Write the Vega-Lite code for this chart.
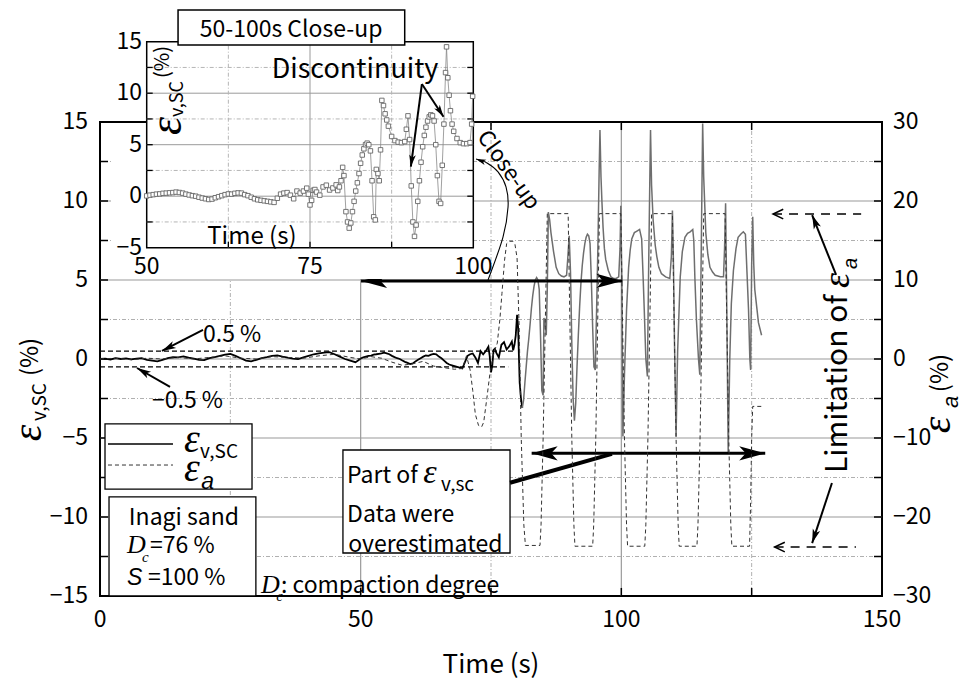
{
  "$schema": "https://vega.github.io/schema/vega-lite/v6.json",
  "width": 782,
  "height": 474,
  "autosize": "none",
  "padding": {"left": 100, "top": 122, "right": 91, "bottom": 85},
  "background": "white",
  "config": {
    "font": "Noto Sans CJK JP",
    "view": {"stroke": "black", "strokeWidth": 2},
    "axis": {"disable": true},
    "text": {"font": "Noto Sans CJK JP", "fontSize": 23, "color": "black"}
  },
  "datasets": {
    "ev": [
      {"t":0,"v":0},{"t":1,"v":0.02},{"t":2,"v":-0.03},{"t":3,"v":0.05},{"t":4,"v":0},{"t":5,"v":0.04},{"t":6,"v":-0.02},{"t":7,"v":0.03},{"t":8,"v":0.06},{"t":9,"v":-0.05},
      {"t":10,"v":-0.1},{"t":11,"v":-0.15},{"t":12,"v":-0.05},{"t":13,"v":0.05},{"t":14,"v":0.12},{"t":15,"v":0.1},{"t":16,"v":0.17},{"t":17,"v":0.08},{"t":18,"v":0.02},{"t":19,"v":-0.05},
      {"t":20,"v":-0.07},{"t":21,"v":0.05},{"t":22,"v":0.12},{"t":23,"v":0.2},{"t":24,"v":0.28},{"t":25,"v":0.32},{"t":26,"v":0.2},{"t":27,"v":0.05},{"t":28,"v":-0.1},{"t":29,"v":-0.15},
      {"t":30,"v":-0.05},{"t":31,"v":0.05},{"t":32,"v":0.12},{"t":33,"v":0.2},{"t":34,"v":0.23},{"t":35,"v":0.15},{"t":36,"v":0.08},{"t":37,"v":0.02},{"t":38,"v":0},{"t":39,"v":0.1},
      {"t":40,"v":0.2},{"t":41,"v":0.3},{"t":42,"v":0.35},{"t":43,"v":0.4},{"t":44,"v":0.44},{"t":45,"v":0.3},{"t":46,"v":0.15},{"t":47,"v":0},{"t":48,"v":-0.1},{"t":49,"v":-0.2},{"t":49.5,"v":-0.1},
      {"t":50,"v":0.03},{"t":50.5,"v":0.1},{"t":51,"v":0.15},{"t":51.5,"v":0.2},{"t":52,"v":0.22},{"t":52.5,"v":0.28},{"t":53,"v":0.3},{"t":53.5,"v":0.33},{"t":54,"v":0.35},{"t":54.5,"v":0.4},
      {"t":55,"v":0.36},{"t":55.5,"v":0.3},{"t":56,"v":0.2},{"t":56.5,"v":0.12},{"t":57,"v":0.05},{"t":57.5,"v":0},{"t":58,"v":-0.1},{"t":58.5,"v":-0.18},{"t":59,"v":-0.25},{"t":59.5,"v":-0.32},
      {"t":60,"v":-0.28},{"t":60.5,"v":-0.15},{"t":61,"v":-0.05},{"t":61.5,"v":0.05},{"t":62,"v":0.15},{"t":62.5,"v":0.22},{"t":63,"v":0.2},{"t":63.5,"v":0.28},{"t":64,"v":0.32},{"t":64.5,"v":0.3},
      {"t":65,"v":0.15},{"t":65.5,"v":0.05},{"t":66,"v":-0.1},{"t":66.5,"v":-0.25},{"t":67,"v":-0.35},{"t":67.5,"v":-0.4},{"t":68,"v":-0.45},{"t":68.5,"v":-0.5},{"t":69,"v":-0.55},{"t":69.5,"v":-0.6},
      {"t":70,"v":-0.2},{"t":70.5,"v":0.2},{"t":71,"v":0.3},{"t":71.5,"v":0.35},{"t":72,"v":0.1},{"t":72.5,"v":-0.25},{"t":73,"v":0.5},{"t":73.5,"v":0.3},{"t":74,"v":0.5},{"t":74.5,"v":0.78},
      {"t":74.75,"v":0.2},{"t":75,"v":-0.85},{"t":75.25,"v":-0.4},{"t":75.5,"v":0.57},{"t":75.75,"v":0.65},{"t":76,"v":0.4},{"t":76.5,"v":0.1},{"t":77,"v":0.9},{"t":77.5,"v":1.07},{"t":78,"v":0.6},
      {"t":78.5,"v":0.8},{"t":79,"v":1.1},{"t":79.25,"v":0.55},{"t":79.5,"v":0.9},{"t":79.75,"v":1.5},{"t":80,"v":2.8},{"t":80.2,"v":2.0},{"t":80.5,"v":-1.5},{"t":80.75,"v":-2.5},{"t":81,"v":-3.1},
      {"t":81.25,"v":-2.6},{"t":81.5,"v":-1.5},{"t":81.75,"v":-0.5},{"t":82,"v":0.5},{"t":82.25,"v":1.3},{"t":82.5,"v":2.2},{"t":82.75,"v":3.2},{"t":83,"v":4.0},{"t":83.25,"v":4.6},{"t":83.5,"v":5.0},
      {"t":83.75,"v":5.15},{"t":84,"v":5.0},{"t":84.25,"v":4.4},{"t":84.5,"v":1.5},{"t":84.75,"v":-2.0},{"t":85,"v":-2.3},{"t":85.15,"v":2.6},{"t":85.4,"v":2.2},{"t":85.6,"v":1.5},{"t":85.8,"v":4.5},
      {"t":86,"v":9.3},{"t":86.25,"v":8.8},{"t":86.5,"v":8.0},{"t":86.75,"v":7.4},{"t":87,"v":6.8},{"t":87.5,"v":5.8},{"t":88,"v":5.4},{"t":88.5,"v":5.25},{"t":89,"v":5.2},{"t":89.5,"v":5.3},
      {"t":89.75,"v":6.5},{"t":90,"v":7.8},{"t":90.25,"v":5.5},{"t":90.5,"v":1.0},{"t":90.75,"v":-2.5},{"t":91,"v":-3.9},{"t":91.25,"v":-2.8},{"t":91.5,"v":-0.5},{"t":91.75,"v":1.5},{"t":92,"v":3.3},
      {"t":92.25,"v":4.8},{"t":92.5,"v":5.9},{"t":92.75,"v":6.7},{"t":93,"v":7.3},{"t":93.25,"v":7.7},{"t":93.5,"v":7.9},{"t":93.75,"v":7.8},{"t":94,"v":7.3},{"t":94.25,"v":5.0},{"t":94.5,"v":2.0},
      {"t":94.75,"v":-0.5},{"t":95,"v":-0.7},{"t":95.25,"v":3.0},{"t":95.5,"v":7.0},{"t":95.75,"v":12.0},{"t":95.9,"v":14.5},{"t":96.1,"v":11.5},{"t":96.3,"v":9.8},{"t":96.5,"v":8.3},{"t":96.75,"v":7.0},
      {"t":97,"v":6.3},{"t":97.5,"v":5.6},{"t":98,"v":5.2},{"t":98.5,"v":5.1},{"t":99,"v":5.1},{"t":99.5,"v":5.2},{"t":99.75,"v":7.0},{"t":99.9,"v":9.7},{"t":100.1,"v":5.0},{"t":100.3,"v":-4.9},
      {"t":100.6,"v":-1.0},{"t":101,"v":3.1},{"t":101.4,"v":5.8},{"t":101.7,"v":6.9},{"t":102,"v":7.6},{"t":102.5,"v":8.0},{"t":103,"v":8.1},{"t":103.5,"v":8.2},{"t":103.9,"v":7.6},{"t":104.2,"v":5.0},
      {"t":104.4,"v":3.1},{"t":104.7,"v":0},{"t":105,"v":-1.1},{"t":105.2,"v":4.8},{"t":105.45,"v":11.0},{"t":105.6,"v":14.5},{"t":105.8,"v":11.0},{"t":106.1,"v":8.8},{"t":106.5,"v":7.2},{"t":106.8,"v":6.5},
      {"t":107.2,"v":5.8},{"t":107.7,"v":5.4},{"t":108.5,"v":5.2},{"t":109.3,"v":5.1},{"t":109.6,"v":6.5},{"t":109.8,"v":9.4},{"t":110,"v":6.0},{"t":110.2,"v":1.0},{"t":110.5,"v":-4.9},{"t":110.8,"v":0.5},
      {"t":111.3,"v":5.2},{"t":111.7,"v":6.8},{"t":112.2,"v":7.7},{"t":112.7,"v":7.95},{"t":113.2,"v":8.05},{"t":113.7,"v":8.2},{"t":113.9,"v":7.5},{"t":114.1,"v":5.2},{"t":114.4,"v":2.5},{"t":114.8,"v":0},
      {"t":115.05,"v":-1.0},{"t":115.3,"v":6.0},{"t":115.6,"v":14.9},{"t":115.8,"v":11.5},{"t":116.2,"v":8.0},{"t":116.6,"v":6.6},{"t":117,"v":5.8},{"t":117.5,"v":5.5},{"t":118,"v":5.3},{"t":119,"v":5.2},
      {"t":119.6,"v":5.2},{"t":119.8,"v":7.0},{"t":120,"v":9.85},{"t":120.2,"v":4.0},{"t":120.5,"v":-6.0},{"t":120.8,"v":0},{"t":121.1,"v":3.5},{"t":121.5,"v":5.6},{"t":122,"v":7.0},{"t":122.4,"v":7.7},
      {"t":122.9,"v":7.9},{"t":123.4,"v":8.05},{"t":123.8,"v":7.9},{"t":124.1,"v":5.5},{"t":124.4,"v":3.1},{"t":124.65,"v":0},{"t":124.8,"v":-0.7},{"t":125,"v":6.0},{"t":125.2,"v":9.0},{"t":125.4,"v":6.0},
      {"t":125.6,"v":4.4},{"t":126,"v":3.2},{"t":126.3,"v":2.3},{"t":126.9,"v":1.5}
    ],
    "ea": [
      {"t":0,"e":0},{"t":3,"e":0.1},{"t":6,"e":-0.1},{"t":9,"e":0.1},{"t":12,"e":0},{"t":15,"e":0.2},{"t":18,"e":0},{"t":21,"e":0.2},{"t":24,"e":0.4},{"t":27,"e":0.1},
      {"t":30,"e":0},{"t":33,"e":0.3},{"t":36,"e":0.2},{"t":39,"e":0.1},{"t":42,"e":0.4},{"t":45,"e":0.6},{"t":48,"e":0.2},{"t":50,"e":0},{"t":52,"e":0.3},{"t":54,"e":0.1},
      {"t":56,"e":-0.4},{"t":58,"e":-0.8},{"t":60,"e":-0.6},{"t":62,"e":-0.3},{"t":64,"e":-0.9},{"t":66,"e":-1.1},{"t":68,"e":-1.3},{"t":69.5,"e":-1.2},{"t":70.3,"e":0.4},{"t":71,"e":-1.4},
      {"t":71.5,"e":-4.0},{"t":72,"e":-7.0},{"t":72.6,"e":-8.4},{"t":73.2,"e":-8.6},{"t":73.6,"e":-8.0},{"t":74.2,"e":-5.0},{"t":74.8,"e":-1.8},{"t":75.5,"e":0.7},{"t":76.2,"e":2.0},{"t":76.7,"e":5.0},
      {"t":77.1,"e":8.3},{"t":77.6,"e":12.5},{"t":78,"e":14.6},{"t":78.5,"e":14.9},{"t":79.2,"e":14.9},{"t":79.6,"e":14.5},{"t":80,"e":12.8},{"t":80.4,"e":4.0},{"t":80.8,"e":-10.0},{"t":81.3,"e":-21.0},
      {"t":81.6,"e":-23.6},{"t":84.4,"e":-23.6},{"t":84.6,"e":-21.0},{"t":85,"e":-10.0},{"t":85.4,"e":4.0},{"t":85.8,"e":18.4},
      {"t":89.8,"e":18.4},{"t":90.1,"e":6},{"t":90.5,"e":-10},{"t":90.9,"e":-21},{"t":91.1,"e":-23.7},{"t":94.5,"e":-23.7},{"t":94.7,"e":-21},{"t":95.1,"e":-10},{"t":95.5,"e":6},{"t":95.8,"e":18.4},
      {"t":99.9,"e":18.4},{"t":100.2,"e":6},{"t":100.6,"e":-10},{"t":101,"e":-21},{"t":101.2,"e":-23.7},{"t":104.5,"e":-23.7},{"t":104.7,"e":-21},{"t":105.1,"e":-10},{"t":105.5,"e":6},{"t":105.8,"e":18.4},
      {"t":109.8,"e":18.4},{"t":110.1,"e":6},{"t":110.5,"e":-10},{"t":110.9,"e":-21},{"t":111.1,"e":-23.7},{"t":114.5,"e":-23.7},{"t":114.7,"e":-21},{"t":115.1,"e":-10},{"t":115.5,"e":6},{"t":115.8,"e":18.4},
      {"t":119.9,"e":18.4},{"t":120.2,"e":6},{"t":120.6,"e":-10},{"t":121,"e":-21},{"t":121.2,"e":-23.7},{"t":124.6,"e":-23.7},{"t":124.8,"e":-18},{"t":125,"e":-10},{"t":125.2,"e":-6.0},{"t":126.9,"e":-6.0}
    ]
  },
  "layer": [
    {
      "layer": [
        {"data": {"values": [{"g":50},{"g":100}]},
         "mark": {"type": "rule", "color": "#9a9a9a", "strokeWidth": 1.2},
         "encoding": {"x": {"field": "g", "type": "quantitative", "scale": {"domain": [0,150], "nice": false}, "axis": null}}},
        {"data": {"values": [{"g":-10},{"g":-5},{"g":0},{"g":5},{"g":10}]},
         "mark": {"type": "rule", "color": "#9a9a9a", "strokeWidth": 1.2},
         "encoding": {"y": {"field": "g", "type": "quantitative", "scale": {"domain": [-15,15], "nice": false}, "axis": null}}},
        {"data": {"values": [{"g":25},{"g":75},{"g":125}]},
         "mark": {"type": "rule", "color": "#b0b0b0", "strokeWidth": 1, "strokeDash": [4,2,1,2]},
         "encoding": {"x": {"field": "g", "type": "quantitative", "axis": null}}},
        {"data": {"values": [{"g":-12.5},{"g":-7.5},{"g":-2.5},{"g":2.5},{"g":7.5},{"g":12.5}]},
         "mark": {"type": "rule", "color": "#b0b0b0", "strokeWidth": 1, "strokeDash": [4,2,1,2]},
         "encoding": {"y": {"field": "g", "type": "quantitative", "axis": null}}},
        {"data": {"values": [{"g":-12.5},{"g":-10},{"g":-7.5},{"g":-5},{"g":-2.5},{"g":0},{"g":2.5},{"g":5},{"g":7.5},{"g":10},{"g":12.5}]},
         "mark": {"type": "rule", "color": "black", "strokeWidth": 1.5},
         "encoding": {"y": {"field": "g", "type": "quantitative", "axis": null}, "x": {"datum": 0}, "x2": {"datum": 1.535}}},
        {"data": {"values": [{"g":25},{"g":50},{"g":75},{"g":100},{"g":125}]},
         "mark": {"type": "rule", "color": "black", "strokeWidth": 1.5},
         "encoding": {"x": {"field": "g", "type": "quantitative", "axis": null}, "y": {"datum": -15}, "y2": {"datum": -14.49}}},
        {"data": {"values": [{"g":25},{"g":50},{"g":75},{"g":100},{"g":125}]},
         "mark": {"type": "rule", "color": "black", "strokeWidth": 1.5},
         "encoding": {"x": {"field": "g", "type": "quantitative", "axis": null}, "y": {"datum": 15}, "y2": {"datum": 14.49}}},
        {"data": {"values": [{"g":-15},{"g":-10},{"g":-5},{"g":0},{"g":5},{"g":10},{"g":15}]},
         "mark": {"type": "text", "align": "right", "baseline": "middle", "fontSize": 23},
         "encoding": {"y": {"field": "g", "type": "quantitative", "axis": null}, "x": {"datum": -2.3}, "text": {"field": "g", "type": "quantitative"}}},
        {"data": {"values": [{"g":0},{"g":50},{"g":100},{"g":150}]},
         "mark": {"type": "text", "align": "center", "baseline": "top", "fontSize": 23},
         "encoding": {"x": {"field": "g", "type": "quantitative", "axis": null}, "y": {"datum": -15.85}, "text": {"field": "g", "type": "quantitative"}}},
        {"data": {"values": [{"x":75,"y":-19.9,"label":"Time (s)"}]},
         "mark": {"type": "text", "align": "center", "baseline": "alphabetic", "fontSize": 26},
         "encoding": {"x": {"field": "x", "type": "quantitative", "axis": null}, "y": {"field": "y", "type": "quantitative", "axis": null}, "text": {"field": "label"}}},
        {"data": {"values": [{"a":0,"b":79.2,"y":0.5},{"a":0,"b":78.3,"y":-0.5}]},
         "mark": {"type": "rule", "color": "black", "strokeWidth": 1.2, "strokeDash": [5,3]},
         "encoding": {"x": {"field": "a", "type": "quantitative", "axis": null}, "x2": {"field": "b"}, "y": {"field": "y", "type": "quantitative", "axis": null}}},
        {"data": {"name": "ev"}, "transform": [{"filter": "datum.t <= 81"}],
         "mark": {"type": "line", "color": "black", "strokeWidth": 1.8},
         "encoding": {"x": {"field": "t", "type": "quantitative", "axis": null}, "y": {"field": "v", "type": "quantitative", "axis": null}}},
        {"data": {"name": "ev"}, "transform": [{"filter": "datum.t >= 81"}],
         "mark": {"type": "line", "color": "#6e6e6e", "strokeWidth": 1.5},
         "encoding": {"x": {"field": "t", "type": "quantitative", "axis": null}, "y": {"field": "v", "type": "quantitative", "axis": null}}},
        {"data": {"values": [{"x":0.96,"x2":29.16,"y":-4.11,"y2":-8.23},{"x":1.73,"x2":29.9,"y":-8.73,"y2":-15},{"x":46.6,"x2":78.65,"y":-5.76,"y2":-12.28}]},
         "mark": {"type": "rect", "fill": "white", "stroke": "black", "strokeWidth": 1.3},
         "encoding": {"x": {"field": "x", "type": "quantitative", "axis": null}, "x2": {"field": "x2"}, "y": {"field": "y", "type": "quantitative", "axis": null}, "y2": {"field": "y2"}}},
        {"data": {"values": [{"x":1.53,"x2":14.0,"y":-5.38}]},
         "mark": {"type": "rule", "color": "black", "strokeWidth": 1.6},
         "encoding": {"x": {"field": "x", "type": "quantitative", "axis": null}, "x2": {"field": "x2"}, "y": {"field": "y", "type": "quantitative", "axis": null}}},
        {"data": {"values": [{"x":1.53,"x2":14.0,"y":-6.71}]},
         "mark": {"type": "rule", "color": "#333", "strokeWidth": 1, "strokeDash": [4,3]},
         "encoding": {"x": {"field": "x", "type": "quantitative", "axis": null}, "x2": {"field": "x2"}, "y": {"field": "y", "type": "quantitative", "axis": null}}},
        {"data": {"values": [{"x":50.07,"x2":100.2,"y":4.94},{"x":82.8,"x2":127.6,"y":-5.97}]},
         "mark": {"type": "rule", "color": "black", "strokeWidth": 3},
         "encoding": {"x": {"field": "x", "type": "quantitative", "axis": null}, "x2": {"field": "x2"}, "y": {"field": "y", "type": "quantitative", "axis": null}}},
        {"data": {"values": [{"x":78.65,"y":-7.83,"x2":98.2,"y2":-6.0}]},
         "mark": {"type": "rule", "color": "black", "strokeWidth": 4},
         "encoding": {"x": {"field": "x", "type": "quantitative", "axis": null}, "x2": {"field": "x2"}, "y": {"field": "y", "type": "quantitative", "axis": null}, "y2": {"field": "y2"}}},
        {"data": {"values": [{"x":19.76,"y":1.84,"x2":11.89,"y2":0.51},{"x":13.43,"y":-1.77,"x2":7.1,"y2":-0.57},{"x":141.2,"y":5.32,"x2":136.6,"y2":9.11},{"x":140.4,"y":-7.85,"x2":136.6,"y2":-11.65}]},
         "mark": {"type": "rule", "color": "black", "strokeWidth": 2},
         "encoding": {"x": {"field": "x", "type": "quantitative", "axis": null}, "x2": {"field": "x2"}, "y": {"field": "y", "type": "quantitative", "axis": null}, "y2": {"field": "y2"}}},
        {"data": {"values": [{"x":50.07,"y":4.94,"ang":180},{"x":100.2,"y":4.94,"ang":0},{"x":82.8,"y":-5.97,"ang":180},{"x":127.6,"y":-5.97,"ang":0}]},
         "mark": {"type": "point", "shape": "M0,0L-2,-0.55L-1.5,0L-2,0.55Z", "filled": true, "color": "black", "opacity": 1, "size": 676},
         "encoding": {"x": {"field": "x", "type": "quantitative", "axis": null}, "y": {"field": "y", "type": "quantitative", "axis": null}, "angle": {"field": "ang", "type": "quantitative", "scale": null}}},
        {"data": {"values": [{"x":11.89,"y":0.51,"ang":153},{"x":7.1,"y":-0.57,"ang":-150},{"x":136.6,"y":9.11,"ang":-112},{"x":136.6,"y":-11.65,"ang":108}]},
         "mark": {"type": "point", "shape": "M0,0L-2,-0.55L-1.5,0L-2,0.55Z", "filled": true, "color": "black", "opacity": 1, "size": 196},
         "encoding": {"x": {"field": "x", "type": "quantitative", "axis": null}, "y": {"field": "y", "type": "quantitative", "axis": null}, "angle": {"field": "ang", "type": "quantitative", "scale": null}}},
        {"data": {"values": [{"i":0,"x":74.43,"y":5.0},{"i":1,"x":77.3,"y":7.72},{"i":2,"x":78.27,"y":9.62},{"i":3,"x":77.88,"y":10.89},{"i":4,"x":76.35,"y":11.84},{"i":5,"x":74.24,"y":12.41},{"i":6,"x":72.13,"y":12.66}]},
         "mark": {"type": "line", "color": "black", "strokeWidth": 1.1, "interpolate": "cardinal"},
         "encoding": {"x": {"field": "x", "type": "quantitative", "axis": null}, "y": {"field": "y", "type": "quantitative", "axis": null}, "order": {"field": "i"}}},
        {"data": {"values": [{"x":72.13,"y":12.66,"ang":-160}]},
         "mark": {"type": "point", "shape": "M0,0L-2,-0.55L-1.5,0L-2,0.55Z", "filled": true, "color": "black", "opacity": 1, "size": 100},
         "encoding": {"x": {"field": "x", "type": "quantitative", "axis": null}, "y": {"field": "y", "type": "quantitative", "axis": null}, "angle": {"field": "ang", "type": "quantitative", "scale": null}}},
        {"data": {"values": [{"x":19.76,"y":1.08,"label":"0.5 %"},{"x":9.97,"y":-3.1,"label":"−0.5 %"},{"x":9.6,"y":-12.28,"label":"=76 %"},{"x":9.2,"y":-14.3,"label":"=100 %"},{"x":34.7,"y":-14.8,"label":": compaction degree"},{"x":47.4,"y":-7.85,"label":"Part of"},{"x":47.4,"y":-10.3,"label":"Data were"},{"x":47.6,"y":-12.2,"label":"overestimated"}]},
         "mark": {"type": "text", "align": "left", "baseline": "alphabetic", "fontSize": 23},
         "encoding": {"x": {"field": "x", "type": "quantitative", "axis": null}, "y": {"field": "y", "type": "quantitative", "axis": null}, "text": {"field": "label"}}},
        {"data": {"values": [{"x":16.1,"y":-10.5,"label":"Inagi sand"}]},
         "mark": {"type": "text", "align": "center", "baseline": "alphabetic", "fontSize": 23},
         "encoding": {"x": {"field": "x", "type": "quantitative", "axis": null}, "y": {"field": "y", "type": "quantitative", "axis": null}, "text": {"field": "label"}}},
        {"data": {"values": [{"x":16.1,"y":-5.89,"label":"ε"},{"x":16.1,"y":-7.72,"label":"ε"}]},
         "mark": {"type": "text", "align": "left", "baseline": "alphabetic", "font": "Liberation Serif", "fontStyle": "italic", "fontSize": 40},
         "encoding": {"x": {"field": "x", "type": "quantitative", "axis": null}, "y": {"field": "y", "type": "quantitative", "axis": null}, "text": {"field": "label"}}},
        {"data": {"values": [{"x":62.0,"y":-7.85,"label":"ε"}]},
         "mark": {"type": "text", "align": "left", "baseline": "alphabetic", "font": "Liberation Serif", "fontStyle": "italic", "fontSize": 34},
         "encoding": {"x": {"field": "x", "type": "quantitative", "axis": null}, "y": {"field": "y", "type": "quantitative", "axis": null}, "text": {"field": "label"}}},
        {"data": {"values": [{"x":19.2,"y":-6.27,"label":"v,SC"},{"x":65.4,"y":-8.35,"label":"v,sc"}]},
         "mark": {"type": "text", "align": "left", "baseline": "alphabetic", "fontSize": 19},
         "encoding": {"x": {"field": "x", "type": "quantitative", "axis": null}, "y": {"field": "y", "type": "quantitative", "axis": null}, "text": {"field": "label"}}},
        {"data": {"values": [{"x":19.4,"y":-8.23,"label":"a"},{"x":5.18,"y":-14.3,"label":"S"}]},
         "mark": {"type": "text", "align": "left", "baseline": "alphabetic", "font": "Liberation Sans", "fontStyle": "italic", "fontSize": 23},
         "encoding": {"x": {"field": "x", "type": "quantitative", "axis": null}, "y": {"field": "y", "type": "quantitative", "axis": null}, "text": {"field": "label"}}},
        {"data": {"values": [{"x":5.18,"y":-12.28,"label":"D"},{"x":30.9,"y":-14.8,"label":"D"}]},
         "mark": {"type": "text", "align": "left", "baseline": "alphabetic", "font": "Liberation Serif", "fontStyle": "italic", "fontSize": 26},
         "encoding": {"x": {"field": "x", "type": "quantitative", "axis": null}, "y": {"field": "y", "type": "quantitative", "axis": null}, "text": {"field": "label"}}},
        {"data": {"values": [{"x":8.06,"y":-12.85,"label":"c"},{"x":33.8,"y":-15.3,"label":"c"}]},
         "mark": {"type": "text", "align": "left", "baseline": "alphabetic", "font": "Liberation Serif", "fontStyle": "italic", "fontSize": 15},
         "encoding": {"x": {"field": "x", "type": "quantitative", "axis": null}, "y": {"field": "y", "type": "quantitative", "axis": null}, "text": {"field": "label"}}},
        {"data": {"values": [{"x":-11.3,"y":-4.68,"label":"ε"},{"x":163.05,"y":-4.18,"label":"ε"}]},
         "mark": {"type": "text", "align": "center", "baseline": "alphabetic", "angle": 270, "font": "Liberation Serif", "fontStyle": "italic", "fontSize": 42},
         "encoding": {"x": {"field": "x", "type": "quantitative", "axis": null}, "y": {"field": "y", "type": "quantitative", "axis": null}, "text": {"field": "label"}}},
        {"data": {"values": [{"x":-10.36,"y":-2.72,"label":"v,SC"}]},
         "mark": {"type": "text", "align": "center", "baseline": "alphabetic", "angle": 270, "fontSize": 19},
         "encoding": {"x": {"field": "x", "type": "quantitative", "axis": null}, "y": {"field": "y", "type": "quantitative", "axis": null}, "text": {"field": "label"}}},
        {"data": {"values": [{"x":-11.9,"y":0.13,"label":"(%)"},{"x":162.7,"y":-0.89,"label":"(%)"}]},
         "mark": {"type": "text", "align": "center", "baseline": "alphabetic", "angle": 270, "fontSize": 24},
         "encoding": {"x": {"field": "x", "type": "quantitative", "axis": null}, "y": {"field": "y", "type": "quantitative", "axis": null}, "text": {"field": "label"}}},
        {"data": {"values": [{"x":164.6,"y":-2.72,"label":"a"}]},
         "mark": {"type": "text", "align": "center", "baseline": "alphabetic", "angle": 270, "font": "Liberation Sans", "fontStyle": "italic", "fontSize": 22},
         "encoding": {"x": {"field": "x", "type": "quantitative", "axis": null}, "y": {"field": "y", "type": "quantitative", "axis": null}, "text": {"field": "label"}}},
        {"data": {"values": [{"x":143.3,"y":-7.22,"label":"Limitation of"}]},
         "mark": {"type": "text", "align": "left", "baseline": "alphabetic", "angle": 270, "fontSize": 30},
         "encoding": {"x": {"field": "x", "type": "quantitative", "axis": null}, "y": {"field": "y", "type": "quantitative", "axis": null}, "text": {"field": "label"}}},
        {"data": {"values": [{"x":143.7,"y":4.5,"label":"ε"}]},
         "mark": {"type": "text", "align": "left", "baseline": "alphabetic", "angle": 270, "font": "Liberation Serif", "fontStyle": "italic", "fontSize": 38},
         "encoding": {"x": {"field": "x", "type": "quantitative", "axis": null}, "y": {"field": "y", "type": "quantitative", "axis": null}, "text": {"field": "label"}}},
        {"data": {"values": [{"x":145.2,"y":5.7,"label":"a"}]},
         "mark": {"type": "text", "align": "left", "baseline": "alphabetic", "angle": 270, "font": "Liberation Sans", "fontStyle": "italic", "fontSize": 20},
         "encoding": {"x": {"field": "x", "type": "quantitative", "axis": null}, "y": {"field": "y", "type": "quantitative", "axis": null}, "text": {"field": "label"}}},
        {"data": {"values": [{"x":78.36,"y":11.96,"label":"Close-up"}]},
         "mark": {"type": "text", "align": "center", "baseline": "middle", "angle": 54.5, "fontSize": 22},
         "encoding": {"x": {"field": "x", "type": "quantitative", "axis": null}, "y": {"field": "y", "type": "quantitative", "axis": null}, "text": {"field": "label"}}}
      ]
    },
    {
      "layer": [
        {"data": {"name": "ea"},
         "mark": {"type": "line", "color": "#333", "strokeWidth": 1, "strokeDash": [4,3]},
         "encoding": {
           "x": {"field": "t", "type": "quantitative", "scale": {"domain": [0,150], "nice": false}, "axis": null},
           "y": {"field": "e", "type": "quantitative", "scale": {"domain": [-30,30], "nice": false}, "axis": null}}},
        {"data": {"values": [{"g":-25},{"g":-20},{"g":-15},{"g":-10},{"g":-5},{"g":0},{"g":5},{"g":10},{"g":15},{"g":20},{"g":25}]},
         "mark": {"type": "rule", "color": "black", "strokeWidth": 1.5},
         "encoding": {"y": {"field": "g", "type": "quantitative", "axis": null}, "x": {"datum": 148.465}, "x2": {"datum": 150}}},
        {"data": {"values": [{"g":-30},{"g":-20},{"g":-10},{"g":0},{"g":10},{"g":20},{"g":30}]},
         "mark": {"type": "text", "align": "left", "baseline": "middle", "fontSize": 23},
         "encoding": {"y": {"field": "g", "type": "quantitative", "axis": null}, "x": {"datum": 152.1}, "text": {"field": "g", "type": "quantitative"}}},
        {"data": {"values": [{"a":129.1,"b":146,"e":18.35},{"a":129.4,"b":145,"e":-23.8}]},
         "mark": {"type": "rule", "color": "black", "strokeWidth": 1.5, "strokeDash": [9,7]},
         "encoding": {"x": {"field": "a", "type": "quantitative", "axis": null}, "x2": {"field": "b"}, "y": {"field": "e", "type": "quantitative", "axis": null}}},
        {"data": {"values": [{"a":129.1,"e":18.35},{"a":129.4,"e":-23.8}]},
         "mark": {"type": "point", "shape": "M1.7,-0.8L0,0L1.7,0.8", "filled": false, "color": "black", "strokeWidth": 1.5, "opacity": 1, "size": 144},
         "encoding": {"x": {"field": "a", "type": "quantitative", "axis": null}, "y": {"field": "e", "type": "quantitative", "axis": null}}}
      ]
    },
    {
      "layer": [
        {"data": {"values": [{"x":44.53,"x2":100,"y":7.01,"y2":-8.04}]},
         "mark": {"type": "rect", "fill": "white", "stroke": null},
         "encoding": {
           "x": {"field": "x", "type": "quantitative", "scale": {"domain": [50,100], "range": [46.7,373.3], "nice": false}, "axis": null},
           "x2": {"field": "x2"},
           "y": {"field": "y", "type": "quantitative", "scale": {"domain": [-5,15], "range": [125.7,-80.3], "nice": false}, "axis": null},
           "y2": {"field": "y2"}}},
        {"data": {"values": [{"x":50,"x2":100,"y":-5,"y2":15}]},
         "mark": {"type": "rect", "fill": "white", "stroke": "black", "strokeWidth": 1.5},
         "encoding": {"x": {"field": "x", "type": "quantitative", "axis": null}, "x2": {"field": "x2"}, "y": {"field": "y", "type": "quantitative", "axis": null}, "y2": {"field": "y2"}}},
        {"data": {"values": [{"g":75}]},
         "mark": {"type": "rule", "color": "#9a9a9a", "strokeWidth": 1},
         "encoding": {"x": {"field": "g", "type": "quantitative", "axis": null}, "y": {"datum": -5}, "y2": {"datum": 15}}},
        {"data": {"values": [{"g":0},{"g":5},{"g":10}]},
         "mark": {"type": "rule", "color": "#9a9a9a", "strokeWidth": 1},
         "encoding": {"y": {"field": "g", "type": "quantitative", "axis": null}, "x": {"datum": 50}, "x2": {"datum": 100}}},
        {"data": {"values": [{"g":62.5},{"g":87.5}]},
         "mark": {"type": "rule", "color": "#b5b5b5", "strokeWidth": 1, "strokeDash": [4,2,1,2]},
         "encoding": {"x": {"field": "g", "type": "quantitative", "axis": null}, "y": {"datum": -5}, "y2": {"datum": 15}}},
        {"data": {"values": [{"g":-2.5},{"g":2.5},{"g":7.5},{"g":12.5}]},
         "mark": {"type": "rule", "color": "#b5b5b5", "strokeWidth": 1, "strokeDash": [4,2,1,2]},
         "encoding": {"y": {"field": "g", "type": "quantitative", "axis": null}, "x": {"datum": 50}, "x2": {"datum": 100}}},
        {"data": {"values": [{"g":-2.5},{"g":0},{"g":2.5},{"g":5},{"g":7.5},{"g":10},{"g":12.5}]},
         "mark": {"type": "rule", "color": "black", "strokeWidth": 1.3},
         "encoding": {"y": {"field": "g", "type": "quantitative", "axis": null}, "x": {"datum": 50}, "x2": {"datum": 50.92}}},
        {"data": {"values": [{"g":-2.5},{"g":0},{"g":2.5},{"g":5},{"g":7.5},{"g":10},{"g":12.5}]},
         "mark": {"type": "rule", "color": "black", "strokeWidth": 1.3},
         "encoding": {"y": {"field": "g", "type": "quantitative", "axis": null}, "x": {"datum": 99.08}, "x2": {"datum": 100}}},
        {"data": {"values": [{"g":62.5},{"g":75},{"g":87.5}]},
         "mark": {"type": "rule", "color": "black", "strokeWidth": 1.3},
         "encoding": {"x": {"field": "g", "type": "quantitative", "axis": null}, "y": {"datum": -5}, "y2": {"datum": -4.42}}},
        {"data": {"values": [{"g":-5},{"g":0},{"g":5},{"g":10},{"g":15}]},
         "mark": {"type": "text", "align": "right", "baseline": "middle", "fontSize": 23},
         "encoding": {"y": {"field": "g", "type": "quantitative", "axis": null}, "x": {"datum": 49.28}, "text": {"field": "g", "type": "quantitative"}}},
        {"data": {"values": [{"g":50},{"g":75},{"g":100}]},
         "mark": {"type": "text", "align": "center", "baseline": "top", "fontSize": 23},
         "encoding": {"x": {"field": "g", "type": "quantitative", "axis": null}, "y": {"datum": -5.8}, "text": {"field": "g", "type": "quantitative"}}},
        {"data": {"name": "ev"}, "transform": [{"filter": "datum.t >= 50 && datum.t <= 100"}],
         "mark": {"type": "line", "color": "#888", "strokeWidth": 0.8},
         "encoding": {"x": {"field": "t", "type": "quantitative", "axis": null}, "y": {"field": "v", "type": "quantitative", "axis": null}}},
        {"data": {"name": "ev"}, "transform": [{"filter": "datum.t >= 50 && datum.t <= 100"}],
         "mark": {"type": "point", "shape": "square", "filled": false, "color": "#666", "fill": "white", "fillOpacity": 1, "strokeWidth": 0.9, "opacity": 1, "size": 20},
         "encoding": {"x": {"field": "t", "type": "quantitative", "axis": null}, "y": {"field": "v", "type": "quantitative", "axis": null}}},
        {"data": {"values": [{"x":92.13,"y":10.89,"x2":90.44,"y2":2.86},{"x":92.13,"y":10.89,"x2":95.44,"y2":7.72}]},
         "mark": {"type": "rule", "color": "black", "strokeWidth": 2},
         "encoding": {"x": {"field": "x", "type": "quantitative", "axis": null}, "x2": {"field": "x2"}, "y": {"field": "y", "type": "quantitative", "axis": null}, "y2": {"field": "y2"}}},
        {"data": {"values": [{"x":90.44,"y":2.86,"ang":98},{"x":95.44,"y":7.72,"ang":57}]},
         "mark": {"type": "point", "shape": "M0,0L-2,-0.55L-1.5,0L-2,0.55Z", "filled": true, "color": "black", "opacity": 1, "size": 144},
         "encoding": {"x": {"field": "x", "type": "quantitative", "axis": null}, "y": {"field": "y", "type": "quantitative", "axis": null}, "angle": {"field": "ang", "type": "quantitative", "scale": null}}},
        {"data": {"values": [{"x":81.9,"y":11.48,"label":"Discontinuity"}]},
         "mark": {"type": "text", "align": "center", "baseline": "alphabetic", "fontSize": 27},
         "encoding": {"x": {"field": "x", "type": "quantitative", "axis": null}, "y": {"field": "y", "type": "quantitative", "axis": null}, "text": {"field": "label"}}},
        {"data": {"values": [{"x":66.1,"y":-4.64,"label":"Time (s)"}]},
         "mark": {"type": "text", "align": "center", "baseline": "alphabetic", "fontSize": 24},
         "encoding": {"x": {"field": "x", "type": "quantitative", "axis": null}, "y": {"field": "y", "type": "quantitative", "axis": null}, "text": {"field": "label"}}},
        {"data": {"values": [{"x":55.25,"y":6.81,"label":"ε"}]},
         "mark": {"type": "text", "align": "center", "baseline": "alphabetic", "angle": 270, "font": "Liberation Serif", "fontStyle": "italic", "fontSize": 46},
         "encoding": {"x": {"field": "x", "type": "quantitative", "axis": null}, "y": {"field": "y", "type": "quantitative", "axis": null}, "text": {"field": "label"}}},
        {"data": {"values": [{"x":55.56,"y":9.44,"label":"v,SC"}]},
         "mark": {"type": "text", "align": "center", "baseline": "alphabetic", "angle": 270, "fontSize": 18},
         "encoding": {"x": {"field": "x", "type": "quantitative", "axis": null}, "y": {"field": "y", "type": "quantitative", "axis": null}, "text": {"field": "label"}}},
        {"data": {"values": [{"x":53.41,"y":13.03,"label":"(%)"}]},
         "mark": {"type": "text", "align": "center", "baseline": "alphabetic", "angle": 270, "fontSize": 20},
         "encoding": {"x": {"field": "x", "type": "quantitative", "axis": null}, "y": {"field": "y", "type": "quantitative", "axis": null}, "text": {"field": "label"}}},
        {"data": {"values": [{"x":54.8,"x2":89.5,"y":14.68,"y2":18.08}]},
         "mark": {"type": "rect", "fill": "white", "stroke": "black", "strokeWidth": 1.5},
         "encoding": {"x": {"field": "x", "type": "quantitative", "axis": null}, "x2": {"field": "x2"}, "y": {"field": "y", "type": "quantitative", "axis": null}, "y2": {"field": "y2"}}},
        {"data": {"values": [{"x":72.1,"y":15.46,"label":"50-100s Close-up"}]},
         "mark": {"type": "text", "align": "center", "baseline": "alphabetic", "fontSize": 23},
         "encoding": {"x": {"field": "x", "type": "quantitative", "axis": null}, "y": {"field": "y", "type": "quantitative", "axis": null}, "text": {"field": "label"}}}
      ]
    }
  ],
  "resolve": {"scale": {"x": "independent", "y": "independent"}}
}
